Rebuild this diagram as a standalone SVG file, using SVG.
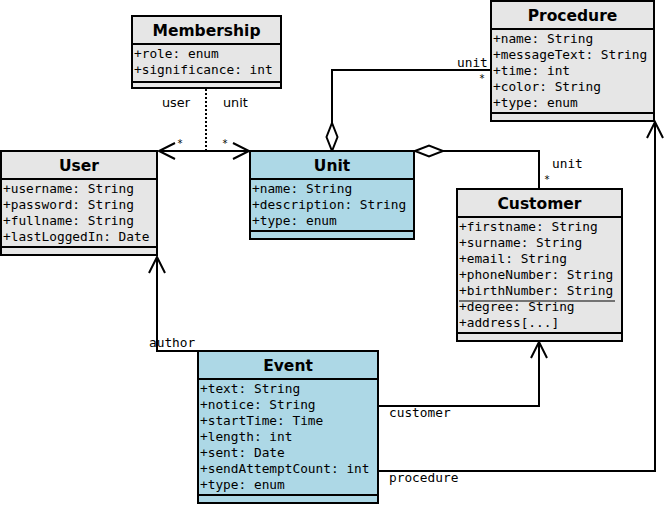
<svg xmlns="http://www.w3.org/2000/svg" width="672" height="506" viewBox="0 0 672 506">
<style>
.box{stroke:#000;stroke-width:2}
.gray{fill:#e6e6e6}
.blue{fill:#add8e6}
.sep{stroke:#000;stroke-width:2}
.title{font-family:"DejaVu Sans",sans-serif;font-weight:bold;font-size:15.5px;text-anchor:middle;fill:#000}
.attr{font-family:"DejaVu Sans Mono",monospace;font-size:12.8px;fill:#000}
.lbl{font-family:"DejaVu Sans Mono",monospace;font-size:12.8px;fill:#000}
.lbls{font-family:"DejaVu Sans",sans-serif;font-size:12.8px;fill:#000}
.star{font-family:"DejaVu Sans Mono",monospace;font-size:10px;fill:#000;text-anchor:middle}
.conn{fill:none;stroke:#000;stroke-width:2}
.dot{fill:none;stroke:#000;stroke-width:2;stroke-dasharray:2,2}
</style>
<defs>
<marker id="open" markerUnits="userSpaceOnUse" markerWidth="20" markerHeight="20" viewBox="0 0 20 20" refX="16" refY="8" orient="auto-start-reverse" overflow="visible">
<path d="M0,0 L16,8 L0,16" fill="none" stroke="#000" stroke-width="2"/>
</marker>
<marker id="diamond" markerUnits="userSpaceOnUse" markerWidth="30" markerHeight="14" viewBox="0 0 30 14" refX="0" refY="6" orient="auto" overflow="visible">
<path d="M0,6 L14,0.5 L28,6 L14,11.5 Z" fill="#fff" stroke="#000" stroke-width="2"/>
</marker>
</defs>

<g id="connectors">
<path class="dot" d="M206,89 V151"/>
<path class="conn" d="M159,151 H249" marker-start="url(#open)" marker-end="url(#open)"/>
<path class="conn" d="M332,151 V70 H490" marker-start="url(#diamond)"/>
<path class="conn" d="M415,151 H539 V188" marker-start="url(#diamond)"/>
<path class="conn" d="M198,351 H157 V257" marker-end="url(#open)"/>
<path class="conn" d="M379,406 H539 V342" marker-end="url(#open)"/>
<path class="conn" d="M379,471 H655 V122" marker-end="url(#open)"/>
<text class="lbls" x="162" y="107">user</text>
<text class="lbls" x="223" y="107">unit</text>
<text class="star" x="180" y="147">*</text>
<text class="star" x="225" y="147">*</text>
<text class="lbl" x="457" y="67">unit</text>
<text class="star" x="482" y="82">*</text>
<text class="lbl" x="552" y="168">unit</text>
<text class="star" x="547" y="183">*</text>
<text class="lbl" x="149" y="347">author</text>
<text class="lbl" x="389" y="417">customer</text>
<text class="lbl" x="389" y="482">procedure</text>
</g>

<g id="membership">
<rect class="box gray" x="132" y="16" width="149" height="72"/>
<line class="sep" x1="132" y1="44" x2="281" y2="44"/>
<line class="sep" x1="132" y1="82" x2="281" y2="82"/>
<text class="title" x="206.5" y="36">Membership</text>
<text class="attr" x="134" y="58">+role: enum</text>
<text class="attr" x="134" y="74">+significance: int</text>
</g>

<g id="user">
<rect class="box gray" x="1" y="151" width="156" height="104"/>
<line class="sep" x1="1" y1="179" x2="157" y2="179"/>
<line class="sep" x1="1" y1="247" x2="157" y2="247"/>
<text class="title" x="79" y="171">User</text>
<text class="attr" x="3" y="193">+username: String</text>
<text class="attr" x="3" y="209">+password: String</text>
<text class="attr" x="3" y="225">+fullname: String</text>
<text class="attr" x="3" y="241">+lastLoggedIn: Date</text>
</g>

<g id="unit">
<rect class="box blue" x="250" y="151" width="164" height="88"/>
<line class="sep" x1="250" y1="179" x2="414" y2="179"/>
<line class="sep" x1="250" y1="231" x2="414" y2="231"/>
<text class="title" x="332" y="171">Unit</text>
<text class="attr" x="252" y="193">+name: String</text>
<text class="attr" x="252" y="209">+description: String</text>
<text class="attr" x="252" y="225">+type: enum</text>
</g>

<g id="procedure">
<rect class="box gray" x="491" y="1" width="163" height="120"/>
<line class="sep" x1="491" y1="29" x2="654" y2="29"/>
<line class="sep" x1="491" y1="113" x2="654" y2="113"/>
<text class="title" x="572.5" y="21">Procedure</text>
<text class="attr" x="493" y="43">+name: String</text>
<text class="attr" x="493" y="59">+messageText: String</text>
<text class="attr" x="493" y="75">+time: int</text>
<text class="attr" x="493" y="91">+color: String</text>
<text class="attr" x="493" y="107">+type: enum</text>
</g>

<g id="customer">
<rect class="box gray" x="457" y="189" width="165" height="152"/>
<line class="sep" x1="457" y1="217" x2="622" y2="217"/>
<line class="sep" x1="457" y1="333" x2="622" y2="333"/>
<line x1="459" y1="301" x2="615" y2="301" stroke="#000" stroke-width="1"/>
<text class="title" x="539.5" y="209">Customer</text>
<text class="attr" x="459" y="231">+firstname: String</text>
<text class="attr" x="459" y="247">+surname: String</text>
<text class="attr" x="459" y="263">+email: String</text>
<text class="attr" x="459" y="279">+phoneNumber: String</text>
<text class="attr" x="459" y="295">+birthNumber: String</text>
<text class="attr" x="459" y="311">+degree: String</text>
<text class="attr" x="459" y="327">+address[...]</text>
</g>

<g id="event">
<rect class="box blue" x="198" y="351" width="180" height="152"/>
<line class="sep" x1="198" y1="379" x2="378" y2="379"/>
<line class="sep" x1="198" y1="495" x2="378" y2="495"/>
<text class="title" x="288" y="371">Event</text>
<text class="attr" x="200" y="393">+text: String</text>
<text class="attr" x="200" y="409">+notice: String</text>
<text class="attr" x="200" y="425">+startTime: Time</text>
<text class="attr" x="200" y="441">+length: int</text>
<text class="attr" x="200" y="457">+sent: Date</text>
<text class="attr" x="200" y="473">+sendAttemptCount: int</text>
<text class="attr" x="200" y="489">+type: enum</text>
</g>
</svg>
